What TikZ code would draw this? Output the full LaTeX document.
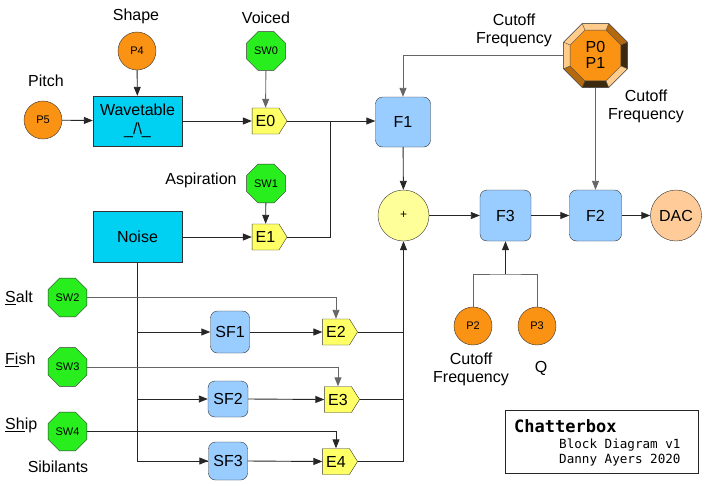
\documentclass[tikz,border=0pt]{standalone}
\usepackage{fontspec}
\setmainfont{Liberation Sans}
\newfontfamily\monof{DejaVu Sans Mono}
\usetikzlibrary{shapes.geometric,shapes.symbols,arrows.meta}
\definecolor{orangeC}{RGB}{250,146,20}
\definecolor{greenC}{RGB}{40,238,30}
\definecolor{cyanC}{RGB}{0,208,242}
\definecolor{blueC}{RGB}{153,204,255}
\definecolor{yellowC}{RGB}{255,255,102}
\definecolor{sumC}{RGB}{255,255,153}
\definecolor{dacC}{RGB}{255,204,153}
\definecolor{bvl}{RGB}{255,204,140}
\definecolor{bvm}{RGB}{181,105,15}
\definecolor{bvd}{RGB}{60,42,16}
\tikzset{
  lbl/.style={font=\fontsize{16}{19}\selectfont, align=center, inner sep=0},
  knob/.style={circle, draw=black!80, fill=orangeC, minimum size=38pt, inner sep=0, font=\fontsize{11}{13}\selectfont},
  swoct/.style={regular polygon, regular polygon sides=8, draw=black!80, fill=greenC, minimum size=42pt, inner sep=0, font=\fontsize{11}{13}\selectfont},
  cyanbox/.style={rectangle, draw=black!80, fill=cyanC, minimum width=89pt, minimum height=50pt, inner sep=0, align=center, font=\fontsize{16}{19}\selectfont},
  filt/.style={rectangle, rounded corners=7pt, draw=black!80, fill=blueC, inner sep=0, font=\fontsize{16}{19}\selectfont},
  env/.style={signal, signal to=east, signal pointer angle=116, draw=black!80, fill=yellowC, minimum width=35pt, minimum height=26pt, inner sep=0, font=\fontsize{16}{19}\selectfont},
  ln/.style={line width=0.9pt, draw=black!85},
  gln/.style={line width=0.9pt, draw=black!60},
  arr/.style={ln, -{Triangle[length=9pt,width=7pt]}},
  garr/.style={gln, -{Triangle[length=9pt,width=7pt]}},
}
\begin{document}
\begin{tikzpicture}[x=1pt,y=-1pt]
\useasboundingbox (0,0) rectangle (706,485);
\fill[white] (0,0) rectangle (706,485);

% ---- voiced source
\node[knob] (P5) at (43,120) {P5};
\node[knob] (P4) at (137,51) {P4};
\node[cyanbox] (wav) at (137.5,121) {Wavetable\\\_/\textbackslash\_};
\node[swoct] (SW0) at (266,51) {SW0};
\node[env] (E0) at (265.5,121) {E0};
\node[lbl] (lPitch) at (46,81) {Pitch};
\node[lbl] (lShape) at (136,16) {Shape};
\node[lbl] (lVoiced) at (266,18) {Voiced};

% ---- noise source
\node[cyanbox, minimum height=51pt] (noise) at (137.5,237) {Noise};
\node[swoct] (SW1) at (266,183.5) {SW1};
\node[env] (E1) at (265.5,237) {E1};
\node[lbl] (lAsp) at (201,180) {Aspiration};

% ---- filters
\node[filt, minimum width=55pt, minimum height=50pt] (F1) at (403,122) {F1};
\node[circle, draw=black!80, fill=sumC, minimum size=51pt, inner sep=0, font=\fontsize{12}{14}\selectfont] (sum) at (403.5,215.5) {+};
\node[filt, minimum width=51pt, minimum height=51pt] (F3) at (505.5,215.5) {F3};
\node[filt, minimum width=52pt, minimum height=51pt] (F2) at (595.5,215.5) {F2};
\node[circle, draw=black!80, fill=dacC, minimum size=51pt, inner sep=0, font=\fontsize{16}{19}\selectfont] (DAC) at (676,215.5) {DAC};

% ---- bevelled P0/P1 knob
\node[regular polygon, regular polygon sides=8, minimum size=69pt, fill=orangeC, draw=black!70, line width=0.5pt, inner sep=0] (P01) at (595.5,55.5) {};
\begin{scope}[shift={(595.5,55.5)}, yscale=-1]
  \foreach \a/\c in {0/bvd, 45/bvm, 90/bvl, 135/bvl, 180/bvl, 225/bvm, 270/bvd, 315/bvl}
    \fill[\c] (\a-22.5:34.6) -- (\a+22.5:34.6) -- (\a+22.5:27.5) -- (\a-22.5:27.5) -- cycle;
  \draw[black!70, line width=0.4pt] (22.5:27.5) \foreach \k in {1,...,7} { -- (22.5+45*\k:27.5) } -- cycle;
  \draw[black!70, line width=0.4pt] \foreach \k in {0,...,7} { (22.5+45*\k:27.5) -- (22.5+45*\k:34.6) };
  \draw[black!70, line width=0.5pt] (22.5:34.6) \foreach \k in {1,...,7} { -- (22.5+45*\k:34.6) } -- cycle;
\end{scope}
\node[font=\fontsize{16}{16}\selectfont, align=center, inner sep=0] (P01t) at (595.5,55) {P0\\P1};
\node[lbl, font=\fontsize{16}{18}\selectfont] (lCut1) at (514,30) {Cutoff\\Frequency};
\node[lbl, font=\fontsize{16}{18}\selectfont] (lCut2) at (646,106) {Cutoff\\Frequency};

% ---- F3 controls
\node[knob] (P2) at (473,326) {P2};
\node[knob] (P3) at (537,326) {P3};
\node[lbl, font=\fontsize{16}{18}\selectfont] (lCut3) at (471,369) {Cutoff\\Frequency};
\node[lbl] (lQ) at (541,368) {Q};
\coordinate (bar) at (505.5,274);

% ---- sibilants
\node[swoct] (SW2) at (67.5,297.5) {SW2};
\node[swoct] (SW3) at (67.5,367) {SW3};
\node[swoct] (SW4) at (67.5,431.5) {SW4};
\node[lbl, anchor=west] (lSalt) at (5,298) {\underline{S}alt};
\node[lbl, anchor=west] (lFish) at (5,360) {\underline{Fi}sh};
\node[lbl, anchor=west] (lShip) at (5,425) {\underline{Sh}ip};
\node[lbl] (lSib) at (58,467) {Sibilants};
\node[filt, minimum width=39pt, minimum height=42pt] (SF1) at (230,332) {SF1};
\node[filt, minimum width=40pt, minimum height=36pt] (SF2) at (228,399) {SF2};
\node[filt, minimum width=39pt, minimum height=38pt] (SF3) at (228,461) {SF3};
\node[env] (E2) at (336,332) {E2};
\node[env] (E3) at (338,399.5) {E3};
\node[env] (E4) at (336,461.5) {E4};
\coordinate (j1) at (330,121);

% ---- title block
\node[draw=black!85, line width=0.9pt, rectangle, minimum width=193pt, minimum height=63pt, inner sep=0, anchor=north west] (title) at (505,410) {};
\node[font=\monof\bfseries\fontsize{17}{19}\selectfont, anchor=west, inner sep=0] (tName) at (514,426) {Chatterbox};
\node[font=\monof\fontsize{12.6}{15}\selectfont, anchor=west, inner sep=0, align=left] (tSub) at (559,452.5) {Block Diagram v1\\Danny Ayers 2020};

% ---- connectors
\draw[arr] (P5) -- (wav);
\draw[arr] (P4) -- (wav);
\draw[arr] (wav.east) -- (E0.west);
\draw[garr] (SW0) -- (E0);
\draw[arr] (noise.east) -- (E1.west);
\draw[arr] (SW1) -- (E1);
\draw[arr] (E0.east) -- (E0.east -| F1.west);
\draw[ln] (E1.east) -| (j1);
\draw[arr] (F1) -- (sum);
\draw[garr] (P01.west) -| (F1.north);
\draw[garr] (P01.south) -- (F2.north);
\draw[arr] (sum) -- (F3);
\draw[arr] (F3) -- (F2);
\draw[arr] (F2) -- (DAC);
\draw[gln] (P2.north) |- (bar) -| (P3.north);
\draw[arr] (bar) -- (F3.south);

\draw[ln] (noise.south) |- (SF3.west);
\draw[arr] (noise.south |- SF1.west) -- (SF1.west);
\draw[arr] (noise.south |- SF2.west) -- (SF2.west);
\draw[arr] (noise.south |- SF3.west) -- (SF3.west);
\draw[garr] (SW2.east) -| (E2.north);
\draw[garr] (SW3.east) -| (E3.north);
\draw[arr] (SW4.east) -| (E4.north);
\draw[arr] (SF1.east) -- (E2.west);
\draw[arr] (SF2.east) -- (E3.west);
\draw[arr] (SF3.east) -- (E4.west);
\draw[ln] (E2.east) -- (E2.east -| sum.south);
\draw[ln] (E3.east) -- (E3.east -| sum.south);
\draw[arr] (E4.east) -| (sum.south);
\end{tikzpicture}
\end{document}
